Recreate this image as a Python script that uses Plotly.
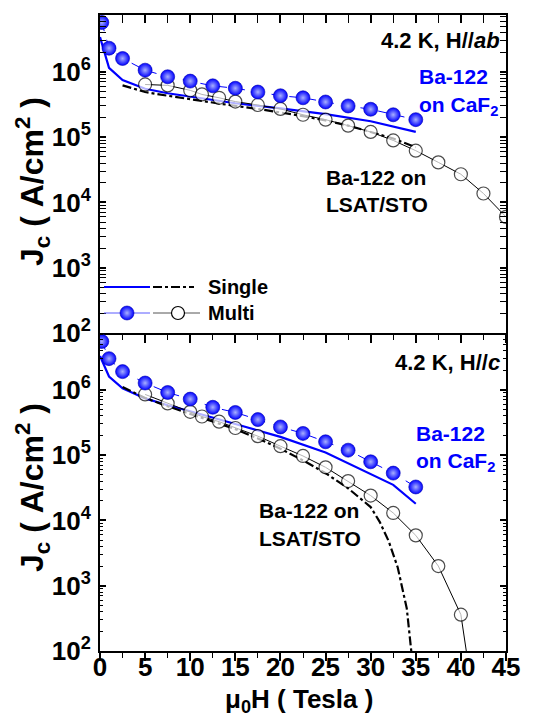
import plotly.graph_objects as go

# ---------------- data ----------------
# Top panel: 4.2 K, H//ab
ab_caf2_multi_x = [0.2, 1, 2.5, 5, 7.5, 10, 12.5, 15, 17.5, 20, 22.5, 25, 27.5, 30, 32.5, 35]
ab_caf2_multi_y = [5.7e6, 2.3e6, 1.6e6, 1.06e6, 8.4e5, 7.2e5, 6.1e5, 5.6e5, 4.9e5, 4.3e5, 4.0e5, 3.45e5, 3.0e5, 2.67e5, 2.2e5, 1.85e5]

ab_caf2_single_x = [0, 1, 2.5, 5, 7.5, 10, 15, 20, 25, 30, 35]
ab_caf2_single_y = [3.4e6, 1.15e6, 7.5e5, 5.5e5, 4.7e5, 4.2e5, 3.3e5, 2.75e5, 2.25e5, 1.75e5, 1.2e5]

ab_lsat_multi_x = [5, 7.5, 10, 11.3, 13.2, 15, 17.5, 20, 22.5, 25, 27.5, 30, 32.5, 35, 37.5, 40, 42.5, 45]
ab_lsat_multi_y = [6.4e5, 6.2e5, 5.2e5, 4.5e5, 4.0e5, 3.5e5, 3.1e5, 2.7e5, 2.2e5, 1.85e5, 1.5e5, 1.2e5, 8.9e4, 6.2e4, 4.1e4, 2.7e4, 1.37e4, 6.0e3]

ab_lsat_single_x = [2.5, 5, 7.5, 10, 12.5, 15, 17.5, 20, 22.5, 25, 27.5, 30, 32.5, 35]
ab_lsat_single_y = [6.2e5, 4.9e5, 4.3e5, 3.8e5, 3.4e5, 3.0e5, 2.7e5, 2.4e5, 2.1e5, 1.8e5, 1.5e5, 1.2e5, 9.5e4, 7.0e4]

# Bottom panel: 4.2 K, H//c
c_caf2_multi_x = [0.2, 1, 2.5, 5, 7.5, 10, 12.5, 15, 17.5, 20, 22.5, 25, 27.5, 30, 32.5, 35]
c_caf2_multi_y = [5.5e6, 3.0e6, 1.9e6, 1.27e6, 9.1e5, 7.2e5, 5.4e5, 4.5e5, 3.5e5, 2.7e5, 2.15e5, 1.6e5, 1.19e5, 7.9e4, 5.3e4, 3.25e4]

c_caf2_single_x = [0, 1, 2.5, 5, 7.5, 10, 15, 20, 25, 30, 32.5, 35]
c_caf2_single_y = [3.3e6, 1.6e6, 1.05e6, 7.4e5, 5.8e5, 4.7e5, 3.0e5, 1.9e5, 1.1e5, 5.2e4, 3.5e4, 1.8e4]

c_lsat_multi_x = [5, 7.5, 10, 11.3, 13.2, 15, 17.5, 20, 22.5, 25, 27.5, 30, 32.5, 35, 37.5, 40, 40.6]
c_lsat_multi_y = [8.5e5, 6.2e5, 4.6e5, 3.9e5, 3.25e5, 2.6e5, 1.95e5, 1.37e5, 9.7e4, 6.5e4, 4.0e4, 2.4e4, 1.3e4, 5.9e3, 2.0e3, 3.6e2, 1.0e2]

c_lsat_single_x = [2.5, 5, 7.5, 10, 12.5, 15, 17.5, 20, 22.5, 25, 27.5, 30, 31, 32, 33, 34, 34.5]
c_lsat_single_y = [1.1e6, 7.5e5, 5.6e5, 4.3e5, 3.3e5, 2.5e5, 1.8e5, 1.25e5, 8.3e4, 5.3e4, 3.1e4, 1.6e4, 9.5e3, 4.8e3, 1.9e3, 4.5e2, 1.0e2]

y_tick_exponents = [2, 3, 4, 5, 6]
x_tick_values = [0, 5, 10, 15, 20, 25, 30, 35, 40, 45]

# ---------------- styling ----------------
FONT = "Liberation Sans, Arial, sans-serif"
BLUE = "#0000ff"
SPHERE = dict(color=BLUE, size=14, symbol="circle",
              gradient=dict(type="radial", color="#a8b0ff"),
              line=dict(color="#0000b0", width=0.6))
OPEN = dict(color="white", size=13, symbol="circle", line=dict(color="black", width=1.2))

fig = go.Figure()


def add_panel(refs, cs_x, cs_y, cm_x, cm_y, ls_x, ls_y, lm_x, lm_y):
    xa, ya = refs
    fig.add_trace(go.Scatter(x=cs_x, y=cs_y, mode="lines", xaxis=xa, yaxis=ya,
                             line=dict(color=BLUE, width=2.2), showlegend=False))
    fig.add_trace(go.Scatter(x=ls_x, y=ls_y, mode="lines", xaxis=xa, yaxis=ya,
                             line=dict(color="black", width=2.2, dash="dashdot"), showlegend=False))
    sizes = [13] * len(lm_x)
    if lm_y[-1] <= 1e2:
        sizes[-1] = 0
    fig.add_trace(go.Scatter(x=lm_x, y=lm_y, mode="lines+markers", xaxis=xa, yaxis=ya,
                             line=dict(color="black", width=1),
                             marker=dict(OPEN, size=sizes), showlegend=False))
    fig.add_trace(go.Scatter(x=cm_x, y=cm_y, mode="lines+markers", xaxis=xa, yaxis=ya,
                             line=dict(color=BLUE, width=1, dash="dash"),
                             marker=SPHERE, showlegend=False))


add_panel(("x", "y"), ab_caf2_single_x, ab_caf2_single_y, ab_caf2_multi_x, ab_caf2_multi_y,
          ab_lsat_single_x, ab_lsat_single_y, ab_lsat_multi_x, ab_lsat_multi_y)
add_panel(("x2", "y2"), c_caf2_single_x, c_caf2_single_y, c_caf2_multi_x, c_caf2_multi_y,
          c_lsat_single_x, c_lsat_single_y, c_lsat_multi_x, c_lsat_multi_y)

# dummy trace so the top-border axis of the upper panel is drawn
fig.add_trace(go.Scatter(x=[None], y=[None], xaxis="x3", yaxis="y", showlegend=False, hoverinfo="skip"))

# custom legend (two samples per entry), drawn on a hidden paper-like axis pair
LX = lambda px: (px - 100) / 406
LY = lambda py: 1 - (py - 15) / 636
r1, r2 = LY(287), LY(313)
fig.add_trace(go.Scatter(x=[LX(104), LX(150)], y=[r1, r1], mode="lines", xaxis="x4", yaxis="y4",
                         line=dict(color=BLUE, width=2.2), showlegend=False, hoverinfo="skip"))
fig.add_trace(go.Scatter(x=[LX(153), LX(194)], y=[r1, r1], mode="lines", xaxis="x4", yaxis="y4",
                         line=dict(color="black", width=2.2, dash="dashdot"), showlegend=False, hoverinfo="skip"))
fig.add_trace(go.Scatter(x=[LX(104), LX(150)], y=[r2, r2], mode="lines", xaxis="x4", yaxis="y4",
                         line=dict(color="#5a5aff", width=1), showlegend=False, hoverinfo="skip"))
fig.add_trace(go.Scatter(x=[LX(153), LX(200)], y=[r2, r2], mode="lines", xaxis="x4", yaxis="y4",
                         line=dict(color="#555555", width=1), showlegend=False, hoverinfo="skip"))
fig.add_trace(go.Scatter(x=[LX(127)], y=[r2], mode="markers", xaxis="x4", yaxis="y4",
                         marker=SPHERE, showlegend=False, hoverinfo="skip"))
fig.add_trace(go.Scatter(x=[LX(178)], y=[r2], mode="markers", xaxis="x4", yaxis="y4",
                         marker=OPEN, showlegend=False, hoverinfo="skip"))

ytickvals = [10 ** e for e in y_tick_exponents]
yticktext = ["<b>10<sup>%d</sup></b>" % e for e in y_tick_exponents]
yminor = [k * 10 ** e for e in range(2, 7) for k in range(2, 10)]
xticktext = ["<b>%d</b>" % v for v in x_tick_values]

yaxis_common = dict(type="log", range=[2, 6.87], tickmode="array", tickvals=ytickvals, ticktext=yticktext,
                    ticks="inside", ticklen=6, tickwidth=1.5, tickcolor="black",
                    showline=True, linewidth=2, linecolor="black", mirror="allticks",
                    showgrid=False, zeroline=False, ticklabelstandoff=2,
                    tickfont=dict(family=FONT, size=26, color="black"),
                    minor=dict(tickmode="array", tickvals=yminor, ticks="inside", ticklen=3,
                               tickwidth=1, tickcolor="black", showgrid=False))

xaxis_common = dict(range=[0, 45], tickmode="array", tickvals=x_tick_values, ticktext=xticktext,
                    ticks="outside", ticklen=8, tickwidth=1.5, tickcolor="black",
                    showline=True, linewidth=2, linecolor="black", showgrid=False, zeroline=False,
                    tickfont=dict(family=FONT, size=26, color="black"),
                    minor=dict(dtick=2.5, tick0=0, ticks="outside", ticklen=5, tickwidth=1.2,
                               tickcolor="black", showgrid=False))

fig.update_layout(
    width=546, height=723,
    margin=dict(l=100, r=40, t=15, b=72),
    paper_bgcolor="white", plot_bgcolor="rgba(0,0,0,0)",
    showlegend=False,
    xaxis=dict(xaxis_common, anchor="y", showticklabels=False),
    yaxis=dict(yaxis_common, domain=[0.5, 1], anchor="x"),
    xaxis2=dict(xaxis_common, anchor="y2", ticklabelstandoff=-16),
    yaxis2=dict(yaxis_common, domain=[0, 0.5], anchor="x2"),
    xaxis3=dict(xaxis_common, anchor="y", overlaying="x", side="top", ticks="inside",
                showticklabels=False,
                minor=dict(dtick=2.5, tick0=0, ticks="inside", ticklen=8, tickwidth=1.2,
                           tickcolor="black", showgrid=False)),
    xaxis4=dict(domain=[0, 1], range=[0, 1], visible=False, anchor="y4"),
    yaxis4=dict(domain=[0, 1], range=[0, 1], visible=False, anchor="x4"),
)

ann = []


def text(t, x, y, size, color="black", xanchor="left", angle=0):
    ann.append(dict(text="<b>%s</b>" % t, x=x, y=y, xref="paper", yref="paper", showarrow=False,
                    xanchor=xanchor, yanchor="middle", textangle=angle,
                    font=dict(family=FONT, size=size, color=color)))


# top panel texts
text("4.2 K, H//<i>ab</i>", LX(502), LY(40), 22, xanchor="right")
text("Ba-122", LX(417), LY(76), 21, BLUE)
text("on CaF<sub>2</sub>", LX(417), LY(106), 21, BLUE)
text("Ba-122 on", LX(324), LY(177), 21)
text("LSAT/STO", LX(324), LY(204), 21)
text("Single", LX(206), LY(287), 20)
text("Multi", LX(206), LY(313), 20)
# bottom panel texts
text("4.2 K, H//<i>c</i>", LX(502), LY(362), 22, xanchor="right")
text("Ba-122", LX(414), LY(433), 21, BLUE)
text("on CaF<sub>2</sub>", LX(414), LY(462), 21, BLUE)
text("Ba-122 on", LX(257), LY(510), 21)
text("LSAT/STO", LX(257), LY(538), 21)
# axis titles
YT = "J<sub>c</sub>\u00a0(\u00a0A/cm<sup>2</sup>\u00a0)"
text(YT, LX(32), LY(182), 32, xanchor="center", angle=-90)
text(YT, LX(32), LY(488), 32, xanchor="center", angle=-90)
text("\u03bc<sub>0</sub>H ( Tesla )", LX(299), LY(700), 26, xanchor="center")

fig.update_layout(annotations=ann)
fig.write_html("out.html", config={"displayModeBar": False},
               post_script="document.body.style.margin='0';")
